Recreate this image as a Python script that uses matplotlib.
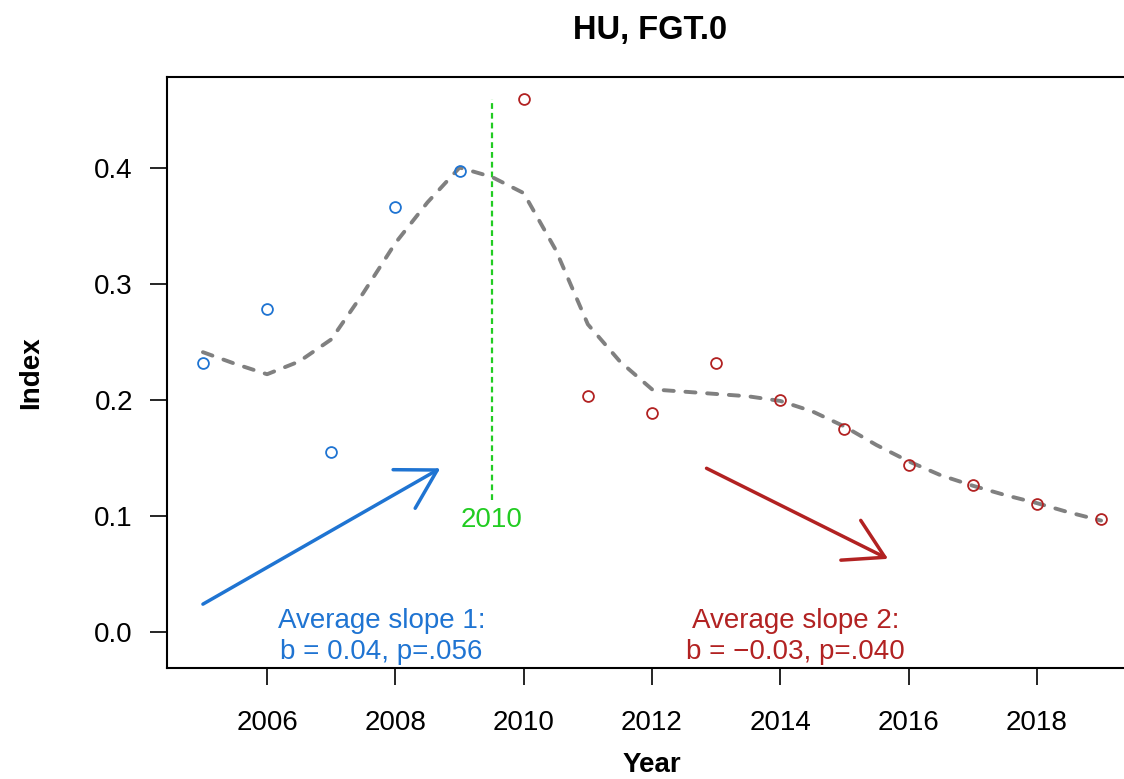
import matplotlib
matplotlib.use("Agg")
import matplotlib.pyplot as plt

plt.rcParams['font.family'] = ['Liberation Sans', 'DejaVu Sans']

years = [2005, 2006, 2007, 2008, 2009, 2010, 2011, 2012, 2013, 2014, 2015, 2016, 2017, 2018, 2019]
values = [0.232, 0.278, 0.155, 0.366, 0.397, 0.459, 0.203, 0.189, 0.232, 0.200, 0.175, 0.144, 0.127, 0.110, 0.097]
# smoothed trend at half-year steps
smooth_x = [2005.0, 2005.5, 2006.0, 2006.5, 2007.0, 2007.5, 2008.0, 2008.5, 2009.0, 2009.5,
            2010.0, 2010.5, 2011.0, 2011.5, 2012.0, 2012.5, 2013.0, 2013.5, 2014.0, 2014.5,
            2015.0, 2015.5, 2016.0, 2016.5, 2017.0, 2017.5, 2018.0, 2018.5, 2019.0]
smooth_y = [0.241, 0.231, 0.222, 0.233, 0.252, 0.292, 0.335, 0.370, 0.400, 0.392,
            0.378, 0.329, 0.265, 0.233, 0.209, 0.207, 0.205, 0.203, 0.199, 0.190,
            0.177, 0.161, 0.147, 0.135, 0.126, 0.118, 0.111, 0.103, 0.096]
break_year = 2009.5
xticks = [2006, 2008, 2010, 2012, 2014, 2016, 2018]
yticks = [0.0, 0.1, 0.2, 0.3, 0.4]
ytick_labels = ["0.0", "0.1", "0.2", "0.3", "0.4"]

BLUE = "#1F74D2"
RED = "#B22222"
GREEN = "#22CC22"
GREY = "#808080"

fig = plt.figure(figsize=(11.24, 7.79), dpi=100)
ax = fig.add_axes([167/1124, 1-668/779, (1137-167)/1124, (668-77)/779])
ax.set_xlim(2004.44, 2019.56)
ax.set_ylim(-0.031, 0.478)

pre_x = [y for y in years if y < break_year]
pre_v = [v for y, v in zip(years, values) if y < break_year]
post_x = [y for y in years if y > break_year]
post_v = [v for y, v in zip(years, values) if y > break_year]

ax.plot(smooth_x, smooth_y, color=GREY, lw=2.8, dashes=(2.6, 3.0), dash_capstyle='round',
        solid_joinstyle='round', zorder=2)
ax.plot(pre_x, pre_v, 'o', mfc='none', mec=BLUE, ms=7.8, mew=1.3, zorder=3)
ax.plot(post_x, post_v, 'o', mfc='none', mec=RED, ms=7.8, mew=1.3, zorder=3)

ax.plot([break_year, break_year], [0.114, 0.459], color=GREEN, lw=1.6, dashes=(2.6, 1.8), zorder=1)
ax.text(break_year, 0.0966, "2010", color=GREEN, fontsize=20, ha='center', va='center')

ax.annotate("", xy=(2008.7, 0.141), xytext=(2005.0, 0.024),
            arrowprops=dict(arrowstyle="->,head_length=2.75,head_width=1.6", color=BLUE,
                            lw=2.5, mutation_scale=10, shrinkA=0, shrinkB=0))
ax.annotate("", xy=(2015.68, 0.063), xytext=(2012.85, 0.141),
            arrowprops=dict(arrowstyle="->,head_length=2.75,head_width=1.6", color=RED,
                            lw=2.5, mutation_scale=10, shrinkA=0, shrinkB=0))

ax.text(2007.78, 0.0095, "Average slope 1:", color=BLUE, fontsize=20, ha='center', va='center')
ax.text(2007.78, -0.0175, "b = 0.04, p=.056", color=BLUE, fontsize=20, ha='center', va='center')
ax.text(2014.24, 0.0095, "Average slope 2:", color=RED, fontsize=20, ha='center', va='center')
ax.text(2014.24, -0.0175, "b = \u22120.03, p=.040", color=RED, fontsize=20, ha='center', va='center')

ax.set_xticks(xticks)
ax.set_xticklabels([str(t) for t in xticks])
ax.set_yticks(yticks)
ax.set_yticklabels(ytick_labels)
ax.tick_params(axis='both', direction='out', length=12.5, width=1.2, labelsize=20, color='black')
ax.tick_params(axis='x', pad=18)
ax.tick_params(axis='y', pad=12)
for s in ax.spines.values():
    s.set_linewidth(1.5)

ax.set_xlabel("Year", fontsize=20, fontweight='bold', labelpad=11)
ax.set_ylabel("Index", fontsize=20, fontweight='bold', labelpad=36)
fig.text(650/1124, 1-30/779, "HU, FGT.0", fontsize=23.5, fontweight='bold', ha='center', va='center')

fig.savefig("out.png", dpi=100)
